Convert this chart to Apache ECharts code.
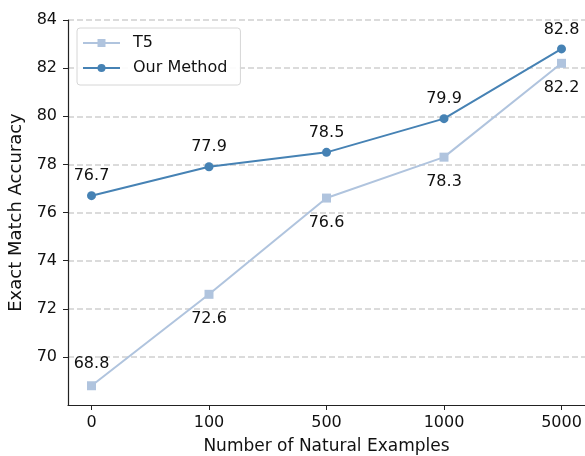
<!DOCTYPE html>
<html>
<head>
<meta charset="utf-8">
<script src="https://cdn.jsdelivr.net/npm/echarts@6/dist/echarts.min.js"></script>
<style>
html,body{margin:0;padding:0;background:#fff;}
#chart{width:585px;height:456px;}
</style>
</head>
<body>
<div id="chart"></div>
<script>
var categories = ['0', '100', '500', '1000', '5000'];
var t5Values = [68.8, 72.6, 76.6, 78.3, 82.2];
var oursValues = [76.7, 77.9, 78.5, 79.9, 82.8];
var yTicks = [70, 72, 74, 76, 78, 80, 82, 84];

var FONT = 'DejaVu Sans';
var chart = echarts.init(document.getElementById('chart'), null, {renderer: 'canvas'});

var t5Data = t5Values.map(function (v, i) {
  var d = {value: [i, v]};
  if (i === 0) d.label = {position: 'top', distance: 9};
  return d;
});
var oursData = oursValues.map(function (v, i) { return {value: [i, v]}; });

var option = {
  animation: false,
  backgroundColor: '#fff',
  grid: {left: 68, right: 0, top: 20, bottom: 51, containLabel: false, outerBoundsMode: 'none'},
  legend: {
    orient: 'vertical',
    left: 77, top: 28,
    padding: [7, 13, 9, 5],
    itemGap: 9,
    itemWidth: 37,
    itemHeight: 10,
    backgroundColor: 'rgba(255,255,255,0.9)',
    borderColor: '#d6d6d6',
    borderWidth: 1,
    borderRadius: 3,
    textStyle: {fontFamily: FONT, fontSize: 16, color: '#111', padding: [0, 0, 0, 8], lineHeight: 16},
    data: ['T5', 'Our Method']
  },
  xAxis: {
    type: 'value',
    min: -0.2, max: 4.2,
    name: 'Number of Natural Examples',
    nameLocation: 'middle',
    nameGap: 33,
    nameTextStyle: {fontFamily: FONT, fontSize: 17, color: '#111'},
    axisLine: {show: true, onZero: false, lineStyle: {color: '#222', width: 1.2}},
    axisTick: {show: true, length: 5, customValues: [0, 1, 2, 3, 4], lineStyle: {color: '#222'}},
    axisLabel: {
      customValues: [0, 1, 2, 3, 4],
      margin: 10,
      fontFamily: FONT, fontSize: 16, color: '#111',
      formatter: function (v) { return categories[Math.round(v)]; }
    },
    splitLine: {show: false}
  },
  yAxis: {
    type: 'value',
    min: 68, max: 84, interval: 2,
    name: 'Exact Match Accuracy',
    nameLocation: 'middle',
    nameGap: 37,
    nameTextStyle: {fontFamily: FONT, fontSize: 18, color: '#111'},
    axisLine: {show: true, onZero: false, lineStyle: {color: '#222', width: 1.2}},
    axisTick: {show: true, length: 5, customValues: yTicks, lineStyle: {color: '#222'}},
    axisLabel: {
      customValues: yTicks,
      margin: 11,
      fontFamily: FONT, fontSize: 16, color: '#111',
      formatter: function (v) { return String(v); }
    },
    splitLine: {show: true, lineStyle: {color: '#cfcfcf', width: 1.5, type: [6, 3]}}
  },
  series: [
    {
      name: 'T5',
      type: 'line',
      data: t5Data,
      symbol: 'rect',
      symbolSize: 9,
      itemStyle: {color: '#b0c4de'},
      lineStyle: {color: '#b0c4de', width: 2},
      label: {show: true, position: 'bottom', distance: 12, fontFamily: FONT, fontSize: 16, color: '#111',
        formatter: function (p) { return p.value[1].toFixed(1); }},
      z: 2
    },
    {
      name: 'Our Method',
      type: 'line',
      data: oursData,
      symbol: 'circle',
      symbolSize: 9,
      itemStyle: {color: '#4682b4'},
      lineStyle: {color: '#4682b4', width: 2},
      label: {show: true, position: 'top', distance: 7, fontFamily: FONT, fontSize: 16, color: '#111',
        formatter: function (p) { return p.value[1].toFixed(1); }},
      z: 3
    }
  ]
};
chart.setOption(option);
</script>
</body>
</html>
